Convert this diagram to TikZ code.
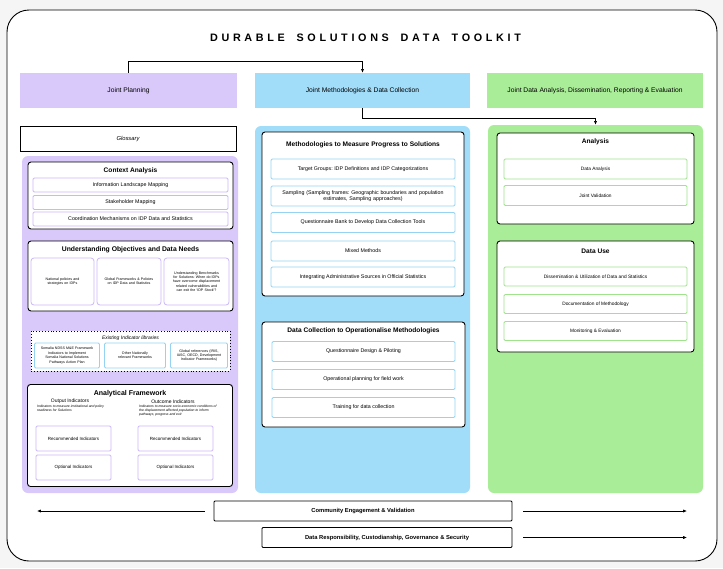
\documentclass[tikz,border=0pt]{standalone}
\usepackage{fontspec}
\setmainfont{Liberation Sans}
\newfontfamily\titlefont[LetterSpace=34]{Liberation Sans}
\usetikzlibrary{arrows.meta}
\definecolor{bgc}{HTML}{F5F5F5}
\definecolor{lav}{HTML}{D9C9FB}
\definecolor{lavB}{HTML}{CBB7F7}
\definecolor{sky}{HTML}{A1DCF8}
\definecolor{skyB}{HTML}{95D3F3}
\definecolor{grn}{HTML}{AAED98}
\definecolor{grnB}{HTML}{9FE38C}
\newcommand{\fsz}[1]{\fontsize{#1}{1.22\dimexpr#1pt\relax}\selectfont}
\hyphenpenalty=10000
\exhyphenpenalty=10000
\frenchspacing
\begin{document}
\begin{tikzpicture}[x=1pt,y=-1pt,
  font=\fsz{5.3},
  every node/.append style={execute at begin node={\hyphenpenalty=10000\relax\frenchspacing}},
  hdr/.style={minimum height=35pt, inner sep=0pt, font=\fsz{6.7}},
  panel/.style={rounded corners=6pt},
  card/.style={draw=black, line width=0.9pt, fill=white, rounded corners=3pt, inner sep=0pt},
  ttl/.style={font=\bfseries\fsz{6.6}, inner sep=0pt},
  sub/.style={fill=white, line width=0.8pt, rounded corners=1.2pt, inner sep=1pt, align=center},
  subL/.style={sub, draw=lavB},
  subB/.style={sub, draw=skyB},
  subG/.style={sub, draw=grnB},
  tiny/.style={font=\fsz{3.6}, align=center, inner sep=0pt},
  arr/.style={line width=0.7pt, -{Latex[length=3.8pt,width=3.2pt]}},
  bbox/.style={draw=black, line width=0.9pt, fill=white, rounded corners=1pt, inner sep=0pt, font=\bfseries\fsz{5.8}}
]
\useasboundingbox (0,0) rectangle (723,568);
\fill[bgc] (0,0) rectangle (723,568);
\draw[line width=0.9pt, fill=white, rounded corners=22pt] (7,10) rectangle (717,561);

% title
\node[inner sep=0pt, font=\titlefont\bfseries\fsz{10.8}] (title) at (365.5,38) {DURABLE\hspace{5pt} SOLUTIONS\hspace{5pt} DATA\hspace{5pt} TOOLKIT};

% headers
\node[hdr, fill=lav, minimum width=217pt] (hp) at (128.5,90.5) {Joint Planning};
\node[hdr, fill=sky, minimum width=215pt] (hm) at (362.5,90.5) {Joint Methodologies \& Data Collection};
\node[hdr, fill=grn, minimum width=216pt] (ha) at (595,90.5) {Joint Data Analysis, Dissemination, Reporting \& Evaluation};

% panels
\node[panel, fill=lav, minimum width=216pt, minimum height=337pt, inner sep=0pt] (lp) at (130,324.5) {};
\node[panel, fill=sky, minimum width=215pt, minimum height=367pt, inner sep=0pt] (mp) at (362.5,309.5) {};
\node[panel, fill=grn, minimum width=215pt, minimum height=368pt, inner sep=0pt] (rp) at (595.5,309) {};

\draw[arr] (hp.north) -- ++(0,-11) -| (hm.north);
\draw[arr] (hm.south) -- ++(0,10) -| (rp.north);

% glossary
\node[draw=black, line width=0.9pt, fill=white, minimum width=216pt, minimum height=25pt, inner sep=0pt, font=\itshape\fsz{5.8}] (glos) at (128,138.5) {Glossary};

% context analysis
\node[card, minimum width=205pt, minimum height=67pt] (ca) at (130.5,195.5) {};
\node[ttl] (cat) at (130.5,170.5) {Context Analysis};
\node[subL, minimum width=195pt, minimum height=14pt] (ca1) at (130.5,185) {Information Landscape Mapping};
\node[subL, minimum width=195pt, minimum height=14pt] (ca2) at (130.5,202.5) {Stakeholder Mapping};
\node[subL, minimum width=195pt, minimum height=14pt] (ca3) at (130.5,219) {Coordination Mechanisms on IDP Data and Statistics};

% understanding objectives
\node[card, minimum width=205pt, minimum height=70pt] (uo) at (130.5,276) {};
\node[ttl, font=\bfseries\fsz{6.8}] (uot) at (130.5,249.5) {Understanding Objectives and Data Needs};
\node[subL, tiny, rounded corners=3pt, minimum width=63pt, minimum height=47pt, text width=62pt] (uo1) at (62.5,281.5) {National policies and strategies on IDPs};
\node[subL, tiny, rounded corners=3pt, minimum width=64pt, minimum height=47pt, text width=60pt] (uo2) at (129,281.5) {Global Frameworks \& Policies on IDP Data and Statistics};
\node[subL, tiny, rounded corners=3pt, minimum width=65pt, minimum height=47pt, text width=61pt] (uo3) at (196.5,281.5) {Understanding Benchmarks for Solutions: When do IDPs have overcome displacement related vulnerabilities and can exit the `IDP Stock'?};

% existing indicator libraries
\node[draw=black, line width=0.9pt, dotted, fill=white, minimum width=199pt, minimum height=40pt, inner sep=0pt] (ex) at (130.5,351) {};
\node[inner sep=0pt, font=\itshape\fsz{5}] (ext) at (130.5,338) {Existing Indicator libraries};
\node[subB, tiny, minimum width=65pt, minimum height=25pt, text width=63pt] (ex1) at (67,355.5) {Somalia NDSS M\&E Framework Indicators to Implement Somalia National Solutions Pathways Action Plan};
\node[subB, tiny, minimum width=61pt, minimum height=25pt, text width=57pt] (ex2) at (135,355.5) {Other Nationally relevant Frameworks};
\node[subB, tiny, minimum width=57pt, minimum height=25pt, text width=55pt] (ex3) at (199,355.5) {Global references (IRIS, IASC, OECD, Development Indicator Frameworks)};

% analytical framework
\node[card, minimum width=205pt, minimum height=102pt] (af) at (130,435.5) {};
\node[ttl, font=\bfseries\fsz{7}] (aft) at (130,393.5) {Analytical Framework};
\node[inner sep=0pt, font=\fsz{5}] (oi) at (70,401.5) {Output Indicators};
\node[inner sep=0pt, font=\fsz{5}] (oc) at (173,401.5) {Outcome Indicators};
\node[inner sep=0pt, anchor=north west, align=left, font=\itshape\fsz{3.4}] (oid) at (37,405) {Indicators to measure institutional and policy\\readiness for Solutions};
\node[inner sep=0pt, anchor=north west, align=left, font=\itshape\fsz{3.4}] (ocd) at (139,405) {Indicators to measure socio-economic conditions of\\the displacement affected population to inform\\pathways, progress and exit};
\node[subL, font=\fsz{4.5}, minimum width=75pt, minimum height=25pt] (r1) at (73.5,438.5) {Recommended Indicators};
\node[subL, font=\fsz{4.5}, minimum width=75pt, minimum height=25pt] (r2) at (175.5,438.5) {Recommended Indicators};
\node[subL, font=\fsz{4.5}, minimum width=75pt, minimum height=25pt] (o1) at (73.5,467.5) {Optional Indicators};
\node[subL, font=\fsz{4.5}, minimum width=75pt, minimum height=25pt] (o2) at (175.5,467.5) {Optional Indicators};

% methodologies
\node[card, minimum width=202pt, minimum height=164pt] (me) at (363,214) {};
\node[ttl] (met) at (363,145) {Methodologies to Measure Progress to Solutions};
\node[subB, minimum width=184pt, minimum height=20pt] (me1) at (363,169) {Target Groups: IDP Definitions and IDP Categorizations};
\node[subB, minimum width=184pt, minimum height=20pt, text width=180pt] (me2) at (363,196) {Sampling (Sampling frames: Geographic boundaries and population\\estimates, Sampling approaches)};
\node[subB, minimum width=184pt, minimum height=20pt] (me3) at (363,222.5) {Questionnaire Bank to Develop Data Collection Tools};
\node[subB, minimum width=184pt, minimum height=20pt] (me4) at (363,251) {Mixed Methods};
\node[subB, minimum width=184pt, minimum height=20pt] (me5) at (363,277) {Integrating Administrative Sources in Official Statistics};

% data collection
\node[card, minimum width=203pt, minimum height=105pt] (dc) at (363.5,374.5) {};
\node[ttl] (dct) at (363.5,331) {Data Collection to Operationalise Methodologies};
\node[subB, minimum width=183pt, minimum height=20pt] (dc1) at (363.5,351.5) {Questionnaire Design \& Piloting};
\node[subB, minimum width=183pt, minimum height=20pt] (dc2) at (363.5,379.5) {Operational planning for field work};
\node[subB, minimum width=183pt, minimum height=20pt] (dc3) at (363.5,407.5) {Training for data collection};

% analysis
\node[card, minimum width=197pt, minimum height=91pt] (an) at (595.5,178.5) {};
\node[ttl] (ant) at (595.5,142) {Analysis};
\node[subG, font=\fsz{4.8}, minimum width=183pt, minimum height=20pt] (an1) at (595.5,169) {Data Analysis};
\node[subG, font=\fsz{4.8}, minimum width=183pt, minimum height=20pt] (an2) at (595.5,195.5) {Joint Validation};

% data use
\node[card, minimum width=197pt, minimum height=111pt] (du) at (595.5,296.5) {};
\node[ttl] (dut) at (595.5,251) {Data Use};
\node[subG, font=\fsz{4.8}, minimum width=183pt, minimum height=19pt] (du1) at (595.5,276.5) {Dissemination \& Utilization of Data and Statistics};
\node[subG, font=\fsz{4.8}, minimum width=183pt, minimum height=19pt] (du2) at (595.5,304) {Documentation of Methodology};
\node[subG, font=\fsz{4.8}, minimum width=183pt, minimum height=19pt] (du3) at (595.5,331) {Monitoring \& Evaluation};

% bottom bars
\node[bbox, minimum width=298pt, minimum height=20pt] (ce) at (363,511) {Community Engagement \& Validation};
\node[bbox, minimum width=250pt, minimum height=20pt] (dr) at (387,537.5) {Data Responsibility, Custodianship, Governance \& Security};
\coordinate (ceL) at (37,511);
\coordinate (ceR) at (687,511);
\coordinate (drR) at (687,537.5);
\draw[arr] ([xshift=-9pt]ce.west) -- (ceL);
\draw[arr] ([xshift=11pt]ce.east) -- (ceR);
\draw[arr] ([xshift=11pt]dr.east) -- (drR);
\end{tikzpicture}
\end{document}
